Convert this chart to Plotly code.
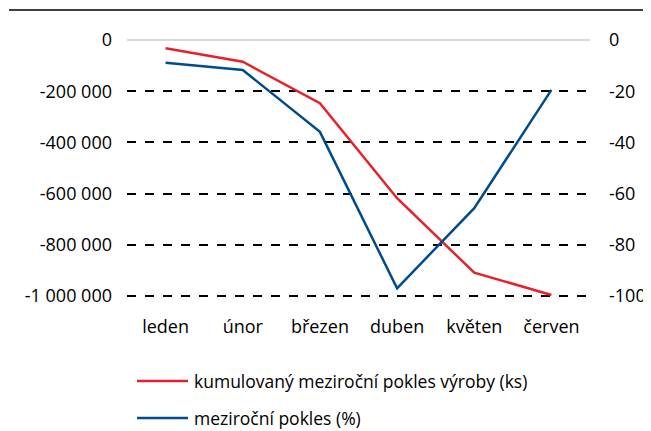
import plotly.graph_objects as go

months = ["leden", "únor", "březen", "duben", "květen", "červen"]
cum_decline_ks = [-32000, -85000, -247000, -618000, -909000, -996000]
yoy_decline_pct = [-8.9, -11.7, -35.9, -97.0, -65.7, -19.5]

left_ticks = [0, -200000, -400000, -600000, -800000, -1000000]
left_labels = ["0", "-200 000", "-400 000", "-600 000", "-800 000", "-1 000 000"]
right_ticks = [0, -20, -40, -60, -80, -100]
right_labels = ["0", "-20", "-40", "-60", "-80", "-100"]

legend_names = ["kumulovaný meziroční pokles výroby (ks)", "meziroční pokles (%)"]
RED = "#e8202a"
BLUE = "#004b8d"
FONT = "Open Sans"

fig = go.Figure()
fig.add_trace(go.Scatter(x=months, y=cum_decline_ks, mode="lines",
                         line=dict(color=RED, width=2.5), name=legend_names[0],
                         showlegend=False))
fig.add_trace(go.Scatter(x=months, y=yoy_decline_pct, mode="lines", yaxis="y2",
                         line=dict(color=BLUE, width=2.5), name=legend_names[1],
                         showlegend=False))

OFF = 8  # default page body margin
W, H = 651 - OFF, 431 - OFF
ml, mt = 127 - OFF, 40 - OFF
mr = W - (590 - OFF)
mb = H - (298 - OFF)
pw, ph = W - ml - mr, H - mt - mb

def px(x):
    return (x - OFF - ml) / pw

def py(y):
    return (H - mb - (y - OFF)) / ph

shapes = []
annotations = []
for i, (name, col) in enumerate(zip(legend_names, [RED, BLUE])):
    yy = [381, 418][i]
    shapes.append(dict(type="line", xref="paper", yref="paper",
                       x0=px(137), x1=px(188), y0=py(yy), y1=py(yy),
                       line=dict(color=col, width=2.5)))
    annotations.append(dict(text=name, xref="paper", yref="paper",
                            x=px(192), y=py(yy), xanchor="left", yanchor="middle",
                            showarrow=False, font=dict(family=FONT, size=17.5, color="#000")))
shapes.append(dict(type="line", xref="paper", yref="paper",
                   x0=px(9), x1=px(660), y0=py(10), y1=py(10),
                   line=dict(color="#000", width=1.5)))

fig.update_layout(
    width=W, height=H,
    margin=dict(l=ml, r=mr, t=mt, b=mb, pad=0, autoexpand=False),
    paper_bgcolor="white", plot_bgcolor="white",
    font=dict(family=FONT, size=18, color="#000"),
    xaxis=dict(showgrid=False, showline=False, zeroline=False, ticks="",
               ticklabelstandoff=16, range=[-0.5, 5.5], automargin=False),
    yaxis=dict(range=[-1008000, 0], tickvals=left_ticks, ticktext=left_labels,
               showgrid=True, gridcolor="#000", griddash="dash", gridwidth=1.5,
               zeroline=True, zerolinecolor="#d9d9d9", zerolinewidth=2,
               showline=False, ticks="", ticklabelstandoff=14, automargin=False),
    yaxis2=dict(range=[-100.8, 0], tickvals=right_ticks, ticktext=right_labels,
                overlaying="y", side="right",
                showgrid=False, zeroline=False, showline=False, ticks="",
                ticklabelstandoff=18, automargin=False),
    shapes=shapes, annotations=annotations,
)

fig.write_html("out.html")
